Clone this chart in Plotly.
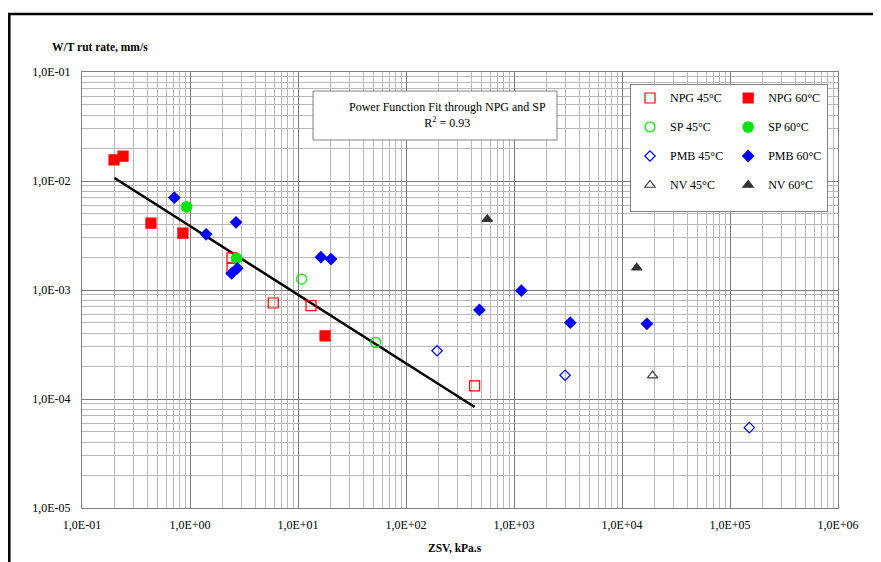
import plotly.graph_objects as go

# ---- data ----
npg45_x = [2.45, 2.45, 5.9, 13.2, 432]
npg45_y = [0.00197, 0.00159, 0.00076, 0.00072, 0.000132]
npg60_x = [0.198, 0.24, 0.435, 0.86, 17.8]
npg60_y = [0.0156, 0.0169, 0.0041, 0.00333, 0.00038]
sp45_x = [10.8, 52.4]
sp45_y = [0.00126, 0.000331]
sp60_x = [0.93, 2.70]
sp60_y = [0.0058, 0.00195]
pmb45_x = [194, 2970, 151000]
pmb45_y = [0.000277, 0.000165, 0.0000546]
pmb60_x = [0.716, 1.41, 2.67, 2.43, 2.74, 16.3, 20.2, 478, 1170, 3320, 17000]
pmb60_y = [0.00703, 0.00324, 0.00418, 0.00142, 0.00158, 0.0020, 0.00192, 0.000656, 0.000986, 0.000501, 0.00049]
nv45_x = [19200]
nv45_y = [0.000164]
nv60_x = [566, 13700]
nv60_y = [0.00446, 0.0016]

# power function fit y = a * x^b through NPG and SP
fit_a = 0.00386
fit_b = -0.63
fit_x = [0.2, 432]
fit_y = [fit_a * v ** fit_b for v in fit_x]

x_tickvals = [1e-1, 1e0, 1e1, 1e2, 1e3, 1e4, 1e5, 1e6]
x_ticktext = ["1,0E-01", "1,0E+00", "1,0E+01", "1,0E+02", "1,0E+03", "1,0E+04", "1,0E+05", "1,0E+06"]
y_tickvals = [1e-5, 1e-4, 1e-3, 1e-2, 1e-1]
y_ticktext = ["1,0E-05", "1,0E-04", "1,0E-03", "1,0E-02", "1,0E-01"]

x_minor = [m * 10 ** e for e in range(-1, 6) for m in range(2, 10)]
y_minor = [m * 10 ** e for e in range(-5, -1) for m in range(2, 10)]

FONT = "Liberation Serif"


def lname(s):
    return '<span style="font-size:12px">' + s + '</span><br> '


fig = go.Figure()
fig.add_trace(go.Scatter(x=fit_x, y=fit_y, mode="lines", line=dict(color="black", width=2.5),
                         showlegend=False, hoverinfo="skip"))

series = [
    ("NPG 45°C", npg45_x, npg45_y, "square-open", "#ff0000", "45", 10),
    ("NPG 60°C", npg60_x, npg60_y, "square", "#ff0000", "60", 10),
    ("SP 45°C", sp45_x, sp45_y, "circle-open", "#00e600", "45", 10),
    ("SP 60°C", sp60_x, sp60_y, "circle", "#00e600", "60", 10.5),
    ("PMB 45°C", pmb45_x, pmb45_y, "diamond-open", "#0000ff", "45", 8),
    ("PMB 60°C", pmb60_x, pmb60_y, "diamond", "#0000ff", "60", 8.5),
    ("NV 45°C", nv45_x, nv45_y, "triangle-up-open", "#404040", "45", 9),
    ("NV 60°C", nv60_x, nv60_y, "triangle-up", "#333333", "60", 9),
]
for name, xs, ys, sym, col, grp, sz in series:
    fig.add_trace(go.Scatter(
        x=xs, y=ys, mode="markers", name=lname(name), legendgroup=grp,
        marker=dict(symbol=sym, color=col, size=sz, line=dict(color=col, width=1.2)),
    ))

axis_common = dict(
    type="log", showline=True, mirror=True, linecolor="#808080", linewidth=1,
    showgrid=True, gridcolor="#7a7a7a", gridwidth=1.2, zeroline=False, ticks="",
    tickfont=dict(family=FONT, size=12, color="black"),
)
fig.update_xaxes(range=[-1, 6], tickvals=x_tickvals, ticktext=x_ticktext,
                 minor=dict(tickvals=x_minor, showgrid=True, gridcolor="#b8b8b8", gridwidth=1),
                 ticklabelstandoff=6, **axis_common)
fig.update_yaxes(range=[-5, -1], tickvals=y_tickvals, ticktext=y_ticktext,
                 minor=dict(tickvals=y_minor, showgrid=True, gridcolor="#b8b8b8", gridwidth=1),
                 ticklabelstandoff=8, **axis_common)

# the page body adds an 8 px offset, so the figure is laid out in page pixels minus 8
OFF = 8
W, H = 881 - OFF, 562 - OFF
ML, MT = 82 - OFF, 72 - OFF
PR, PB = 838 - OFF, 508 - OFF
MR, MB = W - PR, H - PB
PW, PH = PR - ML, PB - MT


def px(xp):
    return (xp - OFF - ML) / PW


def py(yp):
    return (PB - (yp - OFF)) / PH


fig.update_layout(
    width=W, height=H,
    margin=dict(l=ML, r=MR, t=MT, b=MB, pad=0),
    paper_bgcolor="white", plot_bgcolor="white",
    font=dict(family=FONT, color="black"),
    legend=dict(
        orientation="h", traceorder="grouped", valign="top",
        x=px(828), y=py(84), xanchor="right", yanchor="top",
        bgcolor="white", bordercolor="#808080", borderwidth=1,
        font=dict(family=FONT, size=10, color="black"),
        itemwidth=30,
    ),
    shapes=[
        # outer frame (left edge kept just inside the figure area)
        dict(type="rect", xref="paper", yref="paper", x0=px(OFF + 1.3), x1=px(895), y0=py(580), y1=py(14),
             line=dict(color="black", width=2.5), fillcolor="rgba(0,0,0,0)", layer="above"),
        # fit text box
        dict(type="rect", xref="paper", yref="paper", x0=px(313), x1=px(557), y0=py(140), y1=py(91),
             line=dict(color="#808080", width=1), fillcolor="white", layer="above"),
    ],
    annotations=[
        dict(text="Power Function Fit through NPG and SP<br>R<sup>2</sup> = 0.93", xref="paper", yref="paper",
             x=px(447), y=py(115), xanchor="center", yanchor="middle", showarrow=False,
             font=dict(family=FONT, size=12, color="black")),
        dict(text="<b>W/T rut rate, mm/s</b>", xref="paper", yref="paper", x=px(50), y=py(47),
             xanchor="left", yanchor="middle", showarrow=False, font=dict(family=FONT, size=11.5, color="black")),
        dict(text="<b>ZSV, kPa.s</b>", xref="paper", yref="paper", x=px(455), y=py(548),
             xanchor="center", yanchor="middle", showarrow=False, font=dict(family=FONT, size=11.5, color="black")),
    ],
)

fig.write_html("out.html")
